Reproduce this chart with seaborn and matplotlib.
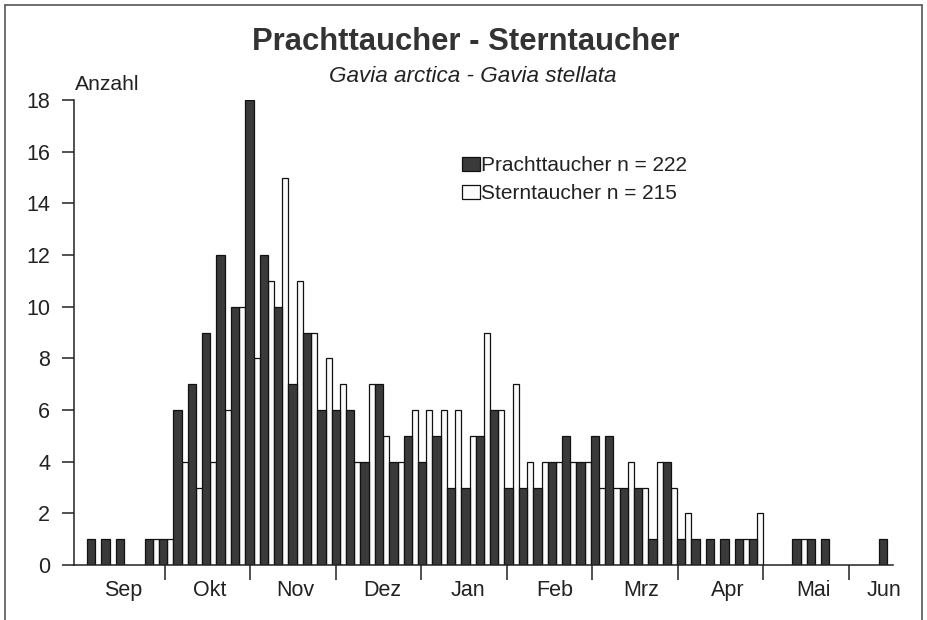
import numpy as np
import pandas as pd
import matplotlib
matplotlib.use("Agg")
import matplotlib.pyplot as plt
import seaborn as sns

# counts per pentade, Sep .. Jun (6 per month)
pracht = [1, 1, 1, 0, 1, 1, 6, 7, 9, 12, 10, 18,
          12, 10, 7, 9, 6, 6, 6, 4, 7, 4, 5, 4,
          5, 3, 3, 5, 6, 3, 3, 3, 4, 5, 4, 5,
          5, 3, 3, 1, 4, 1, 1, 1, 1, 1, 1, 0,
          0, 1, 1, 1, 0, 0, 0, 1]
stern = [0, 0, 0, 0, 1, 1, 4, 3, 4, 6, 10, 8,
         11, 15, 11, 9, 8, 7, 4, 7, 5, 4, 6, 6,
         6, 6, 5, 9, 6, 7, 4, 4, 4, 4, 4, 3,
         3, 4, 3, 4, 3, 2, 0, 0, 0, 1, 2, 0,
         0, 1, 0, 0, 0, 0, 0, 0]
months = ["Sep", "Okt", "Nov", "Dez", "Jan", "Feb", "Mrz", "Apr", "Mai", "Jun"]
legend_labels = ["Prachttaucher n = 222", "Sterntaucher n = 215"]

sns.set_style("white")
plt.rcParams["font.family"] = ["Liberation Sans", "DejaVu Sans"]
txt = "#222222"

slot = np.arange(len(pracht))
df_p = pd.DataFrame({"x": slot - 0.21, "n": pracht})
df_s = pd.DataFrame({"x": slot + 0.29, "n": stern})
df_p = df_p[df_p.n > 0]
df_s = df_s[df_s.n > 0]

fig = plt.figure(figsize=(9.27, 6.2), dpi=100)
fig.patch.set_facecolor("white")
ax = fig.add_axes([74 / 927, 55 / 620, (893 - 74) / 927, (565 - 100) / 620])

sns.barplot(data=df_s, x="x", y="n", native_scale=True, width=0.42,
            color="#fbfbfb", edgecolor="#111111", linewidth=0.9,
            saturation=1, errorbar=None, ax=ax, label=legend_labels[1])
sns.barplot(data=df_p, x="x", y="n", native_scale=True, width=0.58,
            color="#3a3a3a", edgecolor="#111111", linewidth=0.9,
            saturation=1, errorbar=None, ax=ax, label=legend_labels[0])

ax.set_xlim(-1.4, 55.5)
ax.set_ylim(0, 18)
ax.set_xlabel("")
ax.set_ylabel("")
for s in ["top", "right"]:
    ax.spines[s].set_visible(False)
for s in ["left", "bottom"]:
    ax.spines[s].set_color("#222222")
    ax.spines[s].set_linewidth(1.1)

ax.set_yticks(range(0, 19, 2))
ax.tick_params(axis="y", direction="out", length=8.6, width=1.1,
               pad=8.5, labelsize=15.5, colors="#222222", left=True)

edges = 4.92 + 5.94 * np.arange(len(months) - 1)
ax.set_xticks(edges)
ax.set_xticklabels([])
ax.tick_params(axis="x", which="major", direction="out", length=11,
               width=1.1, colors="#222222", bottom=True)
centers = list(2 + 6 * np.arange(len(months) - 1)) + [54.9]
ax.set_xticks(centers, minor=True)
ax.set_xticklabels(months, minor=True)
ax.tick_params(axis="x", which="minor", length=0, pad=10.5, labelsize=15.5,
               labelcolor=txt)

fig.text(0.5025, 1 - 42 / 620, "Prachttaucher - Sterntaucher", ha="center",
         va="center", fontsize=22.3, fontweight="bold", color="#333333")
fig.text(473 / 927, 1 - 77 / 620, "Gavia arctica - Gavia stellata",
         ha="center", va="center", fontsize=16.2, style="italic", color=txt)
fig.text(75 / 927, 1 - 84 / 620, "Anzahl", ha="left", va="center",
         fontsize=15.2, color=txt)

h, l = ax.get_legend_handles_labels()
order = [l.index(legend_labels[0]), l.index(legend_labels[1])]
leg = ax.legend([h[i] for i in order], [l[i] for i in order],
                loc="upper left", bbox_to_anchor=(462 / 927, 1 - 156 / 620),
                bbox_transform=fig.transFigure, frameon=False, fontsize=15,
                handlelength=0.85, handleheight=0.66, handletextpad=0.05,
                labelspacing=0.45, borderpad=0, borderaxespad=0)
for t in leg.get_texts():
    t.set_color(txt)

# outer frame of the scanned figure
fig.add_artist(plt.Line2D([5 / 927, 5 / 927], [0, 1 - 5 / 620],
                          transform=fig.transFigure, color="#555555", lw=1.2))
fig.add_artist(plt.Line2D([5 / 927, 922 / 927], [1 - 5 / 620, 1 - 5 / 620],
                          transform=fig.transFigure, color="#555555", lw=1.2))
fig.add_artist(plt.Line2D([922 / 927, 922 / 927], [0, 1 - 5 / 620],
                          transform=fig.transFigure, color="#555555", lw=1.2))

fig.savefig("out.png", dpi=100)
